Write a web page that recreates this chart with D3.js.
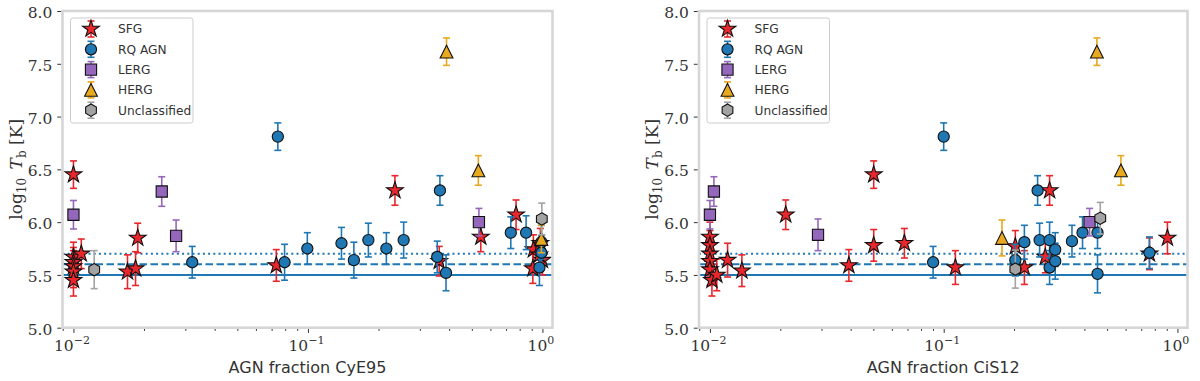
<!DOCTYPE html>
<html>
<head>
<meta charset="utf-8">
<script src="https://cdn.jsdelivr.net/npm/d3@7/dist/d3.min.js"></script>
<style>
  body { margin: 0; background: #fff; }
</style>
</head>
<body>
<script>
// classes, in the order they are plotted
const classes = ['SFG', 'RQ AGN', 'LERG', 'HERG', 'Unclassified']
const colors = ['#e8262b', '#1f77b4', '#9467bd', '#e8a91e', '#a3a3a3']

// [AGN fraction, log10 Tb, error] -- CyE95 panel
const sfgCyE = [
  [0.0100, 6.45, 0.13], [0.0100, 5.67, 0.14], [0.0108, 5.70, 0.14], [0.0100, 5.62, 0.14],
  [0.0100, 5.58, 0.15], [0.0100, 5.53, 0.15], [0.0100, 5.45, 0.15], [0.0170, 5.53, 0.16],
  [0.0184, 5.56, 0.16], [0.0188, 5.85, 0.14], [0.0733, 5.59, 0.15], [0.235, 6.30, 0.14],
  [0.363, 5.63, 0.14], [0.546, 5.86, 0.14], [0.772, 6.07, 0.14], [0.915, 5.74, 0.14],
  [0.910, 5.56, 0.14], [1.00, 5.64, 0.14], [0.98, 5.80, 0.14], [0.97, 5.69, 0.14]
]
const rqCyE = [
  [0.0744, 6.81, 0.13], [0.0321, 5.62, 0.15], [0.0795, 5.62, 0.17], [0.0994, 5.75, 0.15],
  [0.139, 5.80, 0.15], [0.157, 5.64, 0.17], [0.181, 5.83, 0.16], [0.216, 5.75, 0.15],
  [0.256, 5.83, 0.17], [0.3655, 6.30, 0.14], [0.356, 5.67, 0.15], [0.388, 5.52, 0.17],
  [0.733, 5.90, 0.15], [0.852, 5.90, 0.16], [0.99, 5.81, 0.16], [0.99, 5.71, 0.16],
  [0.971, 5.57, 0.17]
]
const lergCyE = [[0.0100, 6.07, 0.135], [0.0238, 6.29, 0.14], [0.0274, 5.87, 0.15], [0.536, 6.00, 0.13]]
const hergCyE = [[0.390, 7.615, 0.13], [0.533, 6.49, 0.14], [0.99, 5.84, 0.13]]
const uncCyE = [[0.01226, 5.55, 0.18], [0.994, 6.03, 0.15]]

// [AGN fraction, log10 Tb, error] -- CiS12 panel
const sfgCiS = [
  [0.0100, 5.86, 0.14], [0.0100, 5.78, 0.14], [0.0100, 5.70, 0.15], [0.0100, 5.63, 0.15],
  [0.0100, 5.55, 0.15], [0.0102, 5.45, 0.15], [0.0107, 5.50, 0.15], [0.0119, 5.64, 0.16],
  [0.0137, 5.54, 0.15], [0.0211, 6.07, 0.14], [0.0393, 5.59, 0.15], [0.0502, 6.45, 0.13],
  [0.0502, 5.78, 0.15], [0.0679, 5.80, 0.14], [0.1122, 5.57, 0.16], [0.2025, 5.77, 0.15],
  [0.2214, 5.57, 0.16], [0.272, 5.67, 0.15], [0.2838, 6.30, 0.14], [0.759, 5.70, 0.15],
  [0.906, 5.85, 0.15]
]
const rqCiS = [
  [0.100, 6.81, 0.13], [0.0901, 5.62, 0.15], [0.2025, 5.64, 0.15], [0.2214, 5.81, 0.16],
  [0.2522, 6.30, 0.14], [0.2572, 5.83, 0.16], [0.2838, 5.83, 0.17], [0.2838, 5.57, 0.16],
  [0.300, 5.74, 0.16], [0.300, 5.63, 0.17], [0.3538, 5.82, 0.15], [0.3926, 5.90, 0.15],
  [0.455, 5.90, 0.15], [0.455, 5.51, 0.18], [0.759, 5.71, 0.15]
]
const lergCiS = [[0.0104, 6.29, 0.14], [0.0100, 6.07, 0.135], [0.0290, 5.88, 0.15], [0.4207, 6.00, 0.13]]
const hergCiS = [[0.4523, 7.615, 0.13], [0.573, 6.49, 0.14], [0.1776, 5.85, 0.17]]
const uncCiS = [[0.2025, 5.555, 0.18], [0.4675, 6.037, 0.15]]

// reference levels (solid, dashed, dotted)
const refLevels = [5.5, 5.6, 5.7]
const refDash = [null, '7.5,3.5', '2,3.2']

const yTicks = [5.0, 5.5, 6.0, 6.5, 7.0, 7.5, 8.0]
const xTicks = [0.01, 0.1, 1]
const xTickExp = ['\u22122', '\u22121', '0']

const panels = [
  { xlabel: 'AGN fraction CyE95', left: 62.5, width: 490, data: [sfgCyE, rqCyE, lergCyE, hergCyE, uncCyE] },
  { xlabel: 'AGN fraction CiS12', left: 699, width: 488.5, data: [sfgCiS, rqCiS, lergCiS, hergCiS, uncCiS] }
]

const W = 1200, H = 381
const plotTop = 11, plotBottom = 327.7
const serif = "'DejaVu Serif', serif"
const sans = "'DejaVu Sans', sans-serif"
const ink = '#333'

const svg = d3.select('body').append('svg')
  .attr('width', W).attr('height', H)
  .attr('font-family', sans)

// marker shapes
function starPath (R) {
  const r = R * 0.381966
  const pts = d3.range(10).map(i => {
    const a = -Math.PI / 2 + i * Math.PI / 5
    const rr = i % 2 ? r : R
    return [rr * Math.cos(a), rr * Math.sin(a)]
  })
  return 'M' + pts.join('L') + 'Z'
}
function hexPath (R) {
  const pts = d3.range(6).map(i => {
    const a = -Math.PI / 2 + i * Math.PI / 3
    return [R * Math.cos(a), R * Math.sin(a)]
  })
  return 'M' + pts.join('L') + 'Z'
}
const markers = [
  starPath(8.8),
  d3.symbol(d3.symbolCircle, Math.PI * 5.6 * 5.6)(),
  'M-5.6,-5.6L5.6,-5.6L5.6,5.6L-5.6,5.6Z',
  'M0,-6.4L6.4,6.4L-6.4,6.4Z',
  hexPath(6.2)
]

function drawBar (g, cx, y0, y1, k) {
  const col = colors[k]
  g.append('line')
    .attr('x1', cx).attr('x2', cx).attr('y1', y0).attr('y2', y1)
    .attr('stroke', col).attr('stroke-width', 1.6)
  ;[y0, y1].forEach(yy => {
    g.append('line')
      .attr('x1', cx - 3.5).attr('x2', cx + 3.5).attr('y1', yy).attr('y2', yy)
      .attr('stroke', col).attr('stroke-width', 1.6)
  })
}
function drawMarker (g, cx, cy, k) {
  g.append('path')
    .attr('d', markers[k])
    .attr('transform', `translate(${cx},${cy})`)
    .attr('fill', colors[k])
    .attr('stroke', '#111').attr('stroke-width', 1.1)
    .attr('stroke-linejoin', 'miter')
}

panels.forEach(p => {
  const x = d3.scaleLog().domain([0.00898, 1.104]).range([p.left, p.left + p.width])
  const y = d3.scaleLinear().domain([5, 8]).range([plotBottom, plotTop])
  const g = svg.append('g')

  // y axis
  const ya = g.append('g')
    .attr('transform', `translate(${p.left - 1.2},0)`)
    .call(d3.axisLeft(y).tickValues(yTicks).tickSize(4).tickPadding(5).tickFormat(d3.format('.1f')))
  ya.select('.domain').remove()
  ya.selectAll('line').attr('stroke', ink)
  ya.selectAll('text').attr('font-family', serif).attr('font-size', 15.5).attr('fill', ink).attr('dy', '0.42em')

  // x axis, minor then major ticks
  const minors = x.ticks().filter(v => !xTicks.some(t => Math.abs(t - v) < 1e-9))
  const xm = g.append('g')
    .attr('transform', `translate(0,${plotBottom + 1.2})`)
    .call(d3.axisBottom(x).tickValues(minors).tickSize(2).tickFormat(''))
  xm.select('.domain').remove()
  xm.selectAll('line').attr('stroke', ink)

  const xa = g.append('g')
    .attr('transform', `translate(0,${plotBottom + 1.2})`)
    .call(d3.axisBottom(x).tickValues(xTicks).tickSize(4).tickFormat(''))
  xa.select('.domain').remove()
  xa.selectAll('line').attr('stroke', ink)
  xa.selectAll('.tick').append('text')
    .attr('y', 22).attr('x', -2)
    .attr('text-anchor', 'middle')
    .attr('font-family', serif).attr('font-size', 15.5).attr('fill', ink)
    .each(function (d, i) {
      const t = d3.select(this)
      t.append('tspan').text('10')
      t.append('tspan').attr('dy', -7).attr('font-size', 11).text(xTickExp[i])
    })

  // axis labels
  g.append('text')
    .attr('x', p.left + p.width / 2).attr('y', 373)
    .attr('text-anchor', 'middle').attr('font-size', 16).attr('fill', ink)
    .text(p.xlabel)

  const yl = g.append('text')
    .attr('transform', `translate(${p.left - 41},${(plotTop + plotBottom) / 2}) rotate(-90)`)
    .attr('text-anchor', 'middle').attr('font-family', serif).attr('font-size', 17).attr('fill', ink)
  yl.append('tspan').text('log')
  yl.append('tspan').attr('dy', 4).attr('font-size', 12).text('10')
  yl.append('tspan').attr('dy', -4).text('\u2002')
  yl.append('tspan').attr('font-style', 'italic').text('T')
  yl.append('tspan').attr('dy', 4).attr('font-size', 12).text('b')
  yl.append('tspan').attr('dy', -4).text(' [K]')

  // reference lines
  const plot = g.append('g')
  refLevels.forEach((lv, i) => {
    plot.append('line')
      .attr('x1', p.left).attr('x2', p.left + p.width)
      .attr('y1', y(lv)).attr('y2', y(lv))
      .attr('stroke', colors[1]).attr('stroke-width', 2)
      .attr('stroke-dasharray', refDash[i])
  })

  // data: bars then markers for each class
  p.data.forEach((rows, k) => {
    const cg = plot.append('g')
    rows.forEach(r => drawBar(cg, x(r[0]), y(r[1] - r[2]), y(r[1] + r[2]), k))
    rows.forEach(r => drawMarker(cg, x(r[0]), y(r[1]), k))
  })

  // frame
  g.append('rect')
    .attr('x', p.left).attr('y', plotTop)
    .attr('width', p.width).attr('height', plotBottom - plotTop)
    .attr('fill', 'none').attr('stroke', '#d6d6d6').attr('stroke-width', 2.6)

  // legend
  const lg = g.append('g').attr('transform', `translate(${p.left + 8},18)`)
  lg.append('rect')
    .attr('width', 122.5).attr('height', 105).attr('rx', 2.5)
    .attr('fill', 'white').attr('fill-opacity', 0.8)
    .attr('stroke', '#cccccc').attr('stroke-width', 1)
  classes.forEach((c, k) => {
    const cy = 11 + k * 20.3
    drawBar(lg, 20.5, cy + 8, cy - 8, k)
    drawMarker(lg, 20.5, cy, k)
    lg.append('text')
      .attr('x', 47.5).attr('y', cy).attr('dy', '0.36em')
      .attr('font-size', 12.2).attr('fill', ink)
      .text(c)
  })
})
</script>
</body>
</html>
